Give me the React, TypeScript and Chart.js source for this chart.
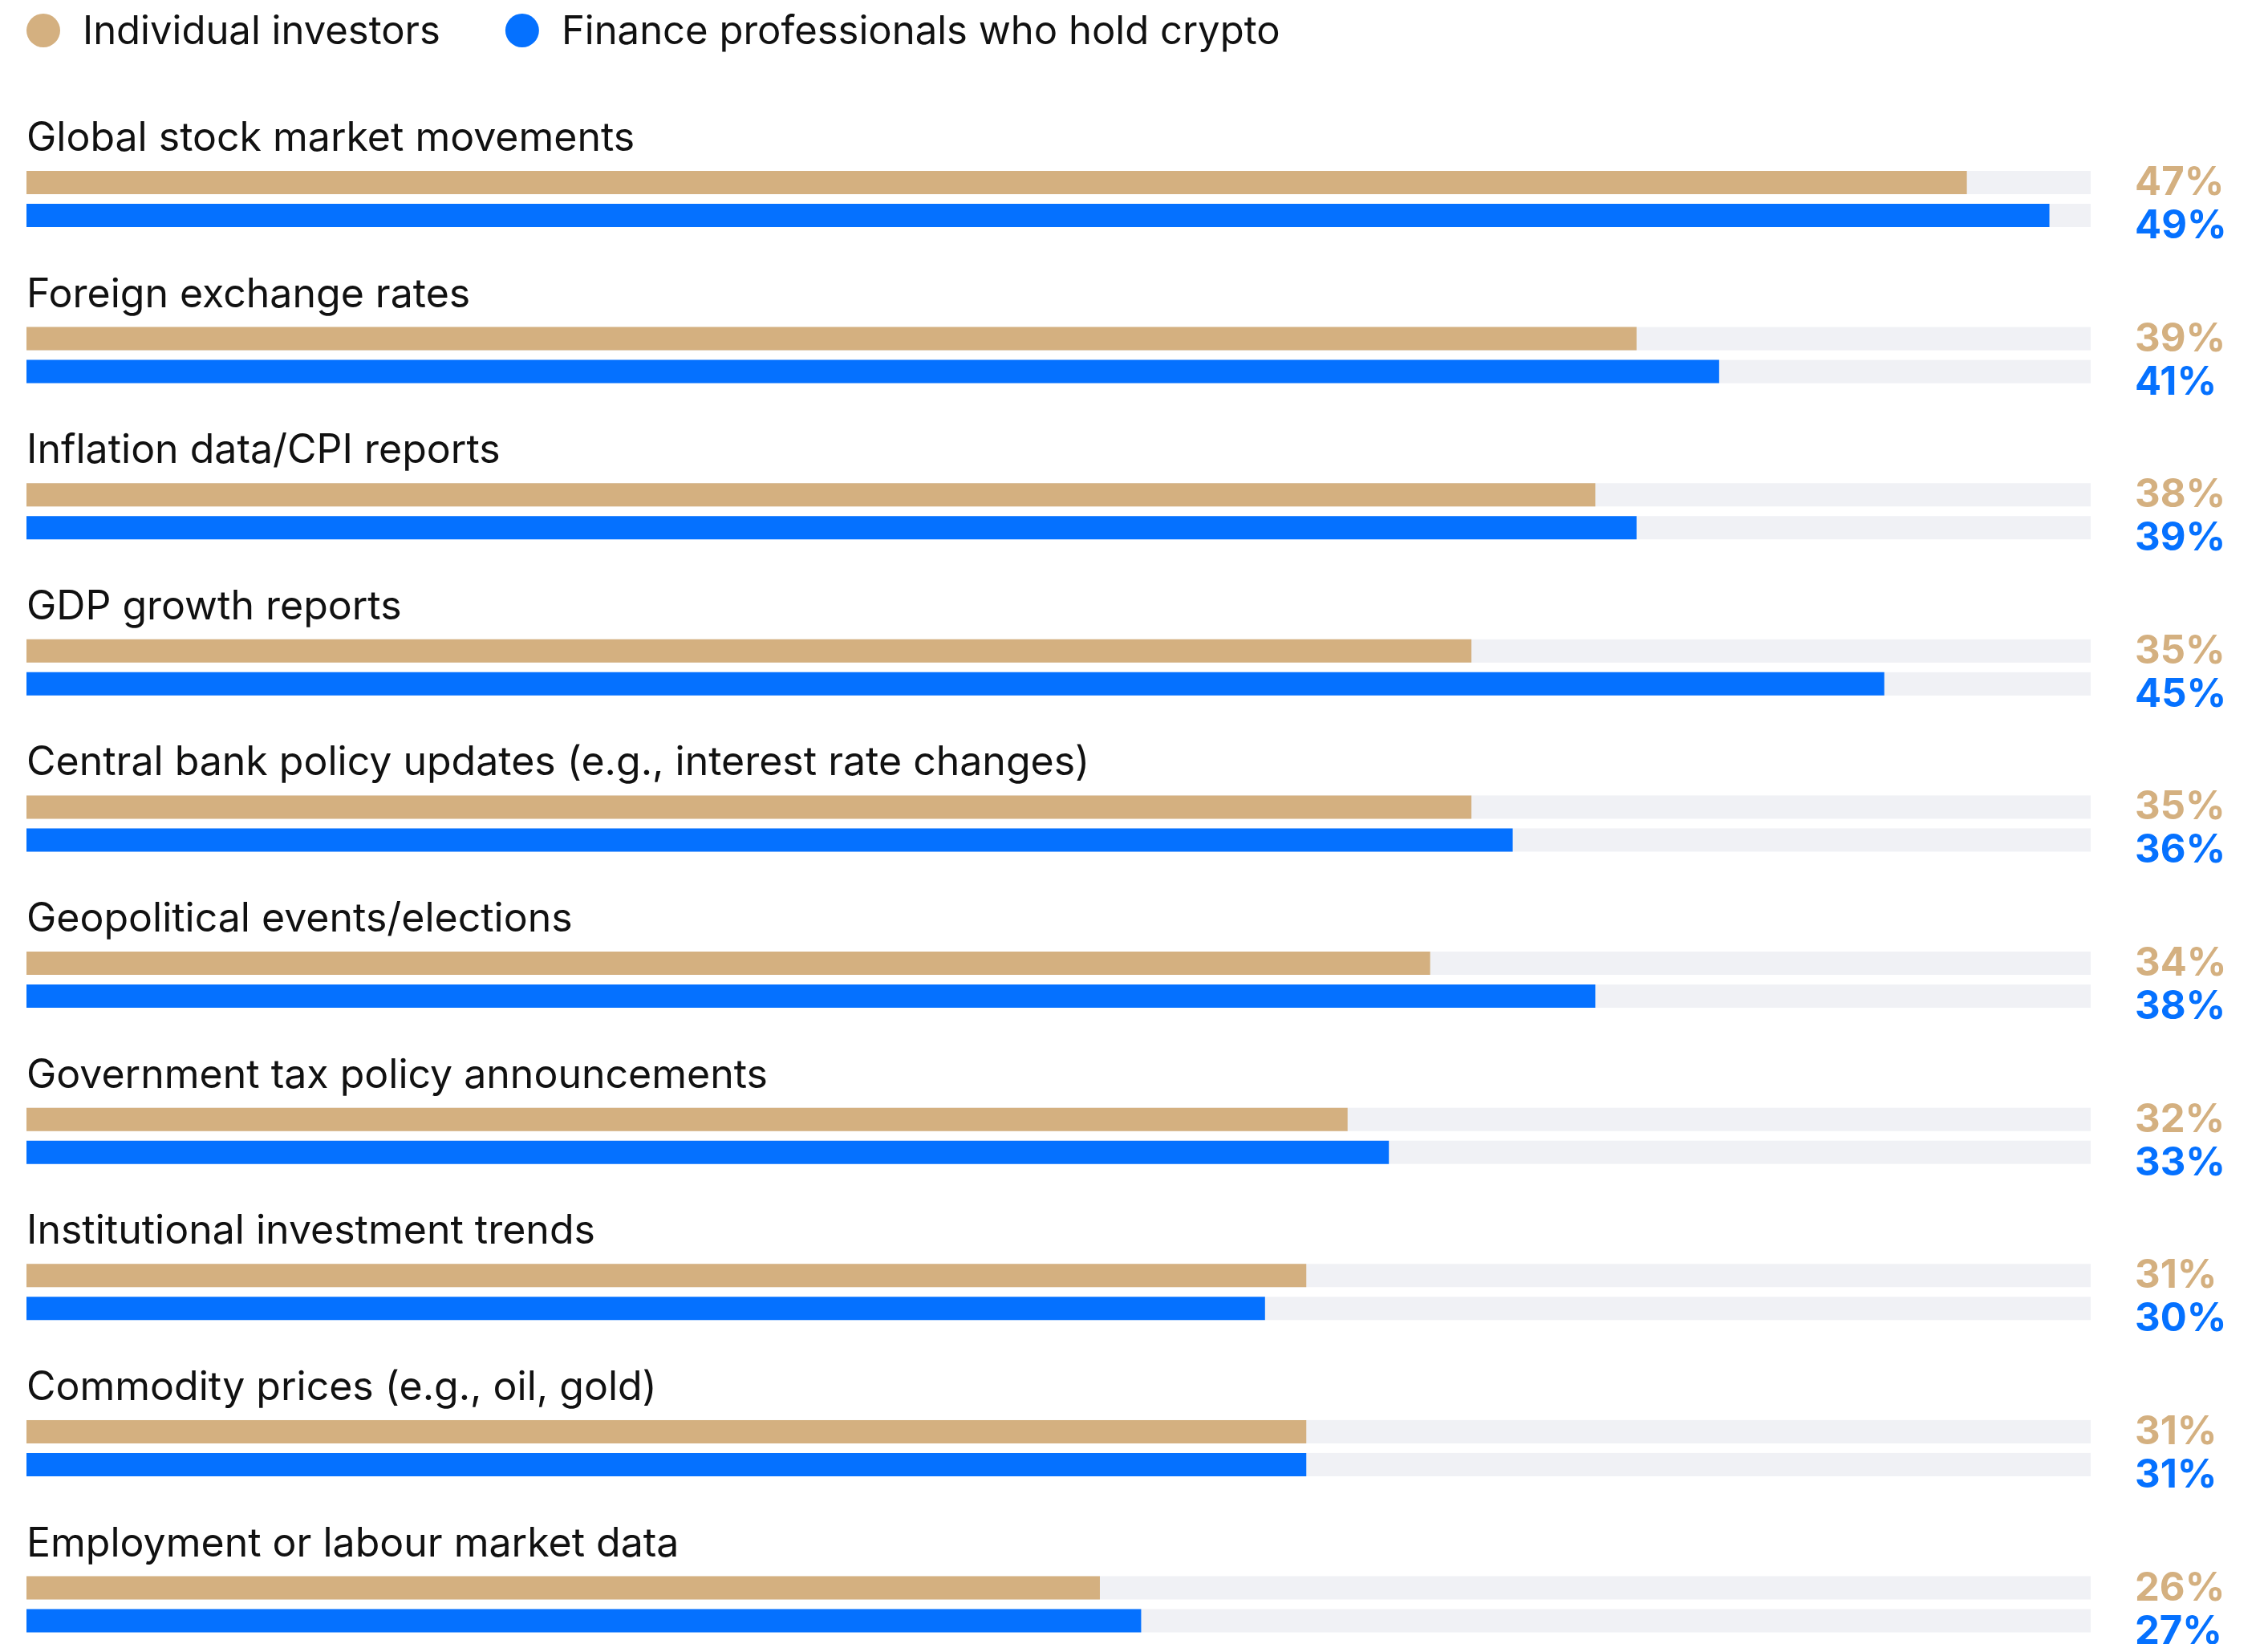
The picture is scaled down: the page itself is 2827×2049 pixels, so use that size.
import React, { useEffect, useRef } from 'react';
import { Chart, registerables } from 'chart.js';

Chart.register(...registerables);

const categories = [
  'Global stock market movements',
  'Foreign exchange rates',
  'Inflation data/CPI reports',
  'GDP growth reports',
  'Central bank policy updates (e.g., interest rate changes)',
  'Geopolitical events/elections',
  'Government tax policy announcements',
  'Institutional investment trends',
  'Commodity prices (e.g., oil, gold)',
  'Employment or labour market data',
];
const individualInvestors = [47, 39, 38, 35, 35, 34, 32, 31, 31, 26];
const financeProfessionals = [49, 41, 39, 45, 36, 38, 33, 30, 31, 27];
const seriesLabels = ['Individual investors', 'Finance professionals who hold crypto'];
const xMax = 50;

const TAN = '#D4B080';
const BLUE = '#0571FF';
const TRACK = '#F0F1F5';
const TEXT = '#111111';
const LABEL_FONT = '400 50px Inter';
const LEGEND_FONT = '400 49px Inter';
const VALUE_FONT = '700 49px Inter';

const trackPlugin = {
  id: 'tracks',
  beforeDatasetsDraw(chart: any) {
    const { ctx, chartArea } = chart;
    ctx.save();
    ctx.fillStyle = TRACK;
    chart.data.datasets.forEach((_: any, di: number) => {
      const meta = chart.getDatasetMeta(di);
      meta.data.forEach((el: any) => {
        const { y, height } = el.getProps(['y', 'height'], true);
        ctx.fillRect(chartArea.left, y - height / 2, chartArea.right - chartArea.left, height);
      });
    });
    ctx.restore();
  },
};

const labelPlugin = {
  id: 'labels',
  afterDatasetsDraw(chart: any) {
    const { ctx, chartArea } = chart;
    const yScale = chart.scales.y;
    ctx.save();
    ctx.textBaseline = 'alphabetic';
    ctx.textAlign = 'left';
    (chart.data.labels as string[]).forEach((label, i) => {
      const yc = yScale.getPixelForValue(i);
      ctx.font = LABEL_FONT;
      ctx.fillStyle = TEXT;
      ctx.fillText(label, chartArea.left, yc - 60);
      ctx.font = VALUE_FONT;
      const d0 = chart.data.datasets[0];
      const d1 = chart.data.datasets[1];
      ctx.fillStyle = d0.backgroundColor;
      ctx.fillText(`${d0.data[i]}%`, chartArea.right + 55, yc - 5);
      ctx.fillStyle = d1.backgroundColor;
      ctx.fillText(`${d1.data[i]}%`, chartArea.right + 55, yc + 49);
    });
    // legend
    ctx.font = LEGEND_FONT;
    let x = 33;
    chart.data.datasets.forEach((ds: any) => {
      ctx.fillStyle = ds.backgroundColor;
      ctx.beginPath();
      ctx.arc(x + 21, 38, 21, 0, Math.PI * 2);
      ctx.fill();
      ctx.fillStyle = TEXT;
      ctx.fillText(ds.label, x + 70, 55);
      x = x + 70 + ctx.measureText(ds.label).width + 81;
    });
    ctx.restore();
  },
};

export default function App() {
  const ref = useRef<HTMLCanvasElement | null>(null);
  useEffect(() => {
    if (!ref.current) return;
    const chart = new Chart(ref.current, {
      type: 'bar',
      data: {
        labels: categories,
        datasets: [
          {
            label: seriesLabels[0],
            data: individualInvestors,
            backgroundColor: TAN,
            borderWidth: 0,
            categoryPercentage: 0.4215,
            barPercentage: 0.707,
            clip: false,
          } as any,
          {
            label: seriesLabels[1],
            data: financeProfessionals,
            backgroundColor: BLUE,
            borderWidth: 0,
            categoryPercentage: 0.4215,
            barPercentage: 0.707,
            clip: false,
          } as any,
        ],
      },
      options: {
        indexAxis: 'y',
        animation: false,
        responsive: false,
        maintainAspectRatio: false,
        layout: { padding: { top: 248, bottom: 49.5, left: 33, right: 221 } },
        plugins: { legend: { display: false }, tooltip: { enabled: false } },
        scales: {
          x: { type: 'linear', min: 0, max: xMax, display: false, grid: { display: false } },
          y: { type: 'category', offset: false, display: false, grid: { display: false } },
        },
      },
      plugins: [trackPlugin, labelPlugin],
    });
    return () => chart.destroy();
  }, []);
  return (
    <div style={{ position: 'fixed', left: 0, top: 0, width: 2827, height: 2049, background: '#fff' }}>
      <canvas ref={ref} width={2827} height={2049} style={{ width: 2827, height: 2049 }} />
    </div>
  );
}
